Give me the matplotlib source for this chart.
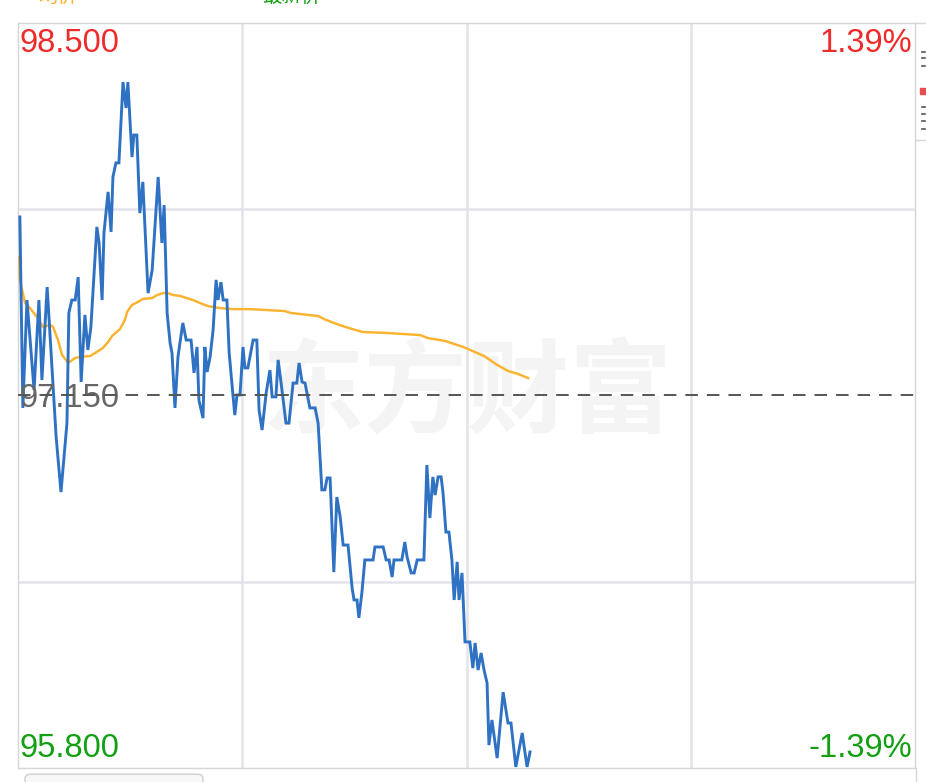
import matplotlib
matplotlib.use('Agg')
import matplotlib.pyplot as plt
from matplotlib.patches import FancyBboxPatch, Rectangle
from matplotlib.lines import Line2D

# Intraday data (minutes since 09:30, midday break removed)
PREV_CLOSE = 97.150
Y_HIGH = 98.500
Y_LOW = 95.800
TOTAL_MINUTES = 240

price_minutes = [
    0.5, 1.3, 2.4, 4.3, 5.6, 6.4, 7.8, 10.2, 11.5, 13.1, 13.6, 14.4, 15.3, 16.1,
    16.9, 17.9, 18.7, 19.5, 21.1, 21.7, 22.5, 23.0, 24.1, 24.9, 25.4, 26.2, 27.0,
    28.1, 28.9, 29.4, 30.5, 31.0, 31.8, 32.6, 33.4, 34.8, 35.9, 37.5, 38.5, 39.1,
    39.9, 40.7, 41.2, 42.0, 42.8, 44.1, 45.0, 46.3, 47.1, 47.9, 48.4, 49.5, 50.0,
    50.6, 51.4, 52.2, 53.0, 53.5, 54.3, 54.9, 55.9, 56.5, 58.0, 58.6, 59.4, 60.2,
    60.7, 61.5, 62.9, 63.9, 64.5, 65.3, 66.4, 67.4, 68.0, 69.0, 69.6, 70.4, 71.7,
    72.5, 73.6, 74.6, 75.2, 76.0, 76.8, 78.1, 79.5, 80.3, 81.3, 82.1, 82.7, 83.5,
    84.5, 85.3, 86.2, 87.0, 88.3, 89.4, 89.9, 90.7, 91.2, 92.0, 92.8, 95.0, 95.5,
    97.7, 98.5, 99.3, 100.1, 100.6, 102.7, 103.5, 104.1, 105.2, 106.0, 106.8,
    108.6, 109.4, 110.2, 111.0, 111.6, 112.4, 113.2, 113.7, 114.5, 115.3, 116.1,
    116.7, 117.5, 118.0, 118.8, 119.6, 120.9, 121.7, 122.3, 123.1, 123.9, 124.7,
    125.5, 126.0, 126.8, 128.2, 129.8, 131.1, 131.9, 133.2, 134.9, 136.2, 137.0,
]
price_values = [
    97.797, 97.105, 97.496, 97.170, 97.496, 97.206, 97.543, 97.000, 96.800, 97.050,
    97.449, 97.496, 97.496, 97.579, 97.199, 97.442, 97.315, 97.398, 97.761, 97.703,
    97.496, 97.739, 97.888, 97.743, 97.942, 97.993, 97.993, 98.286, 98.192, 98.286,
    98.014, 98.094, 98.094, 97.811, 97.924, 97.521, 97.605, 97.942, 97.703, 97.840,
    97.449, 97.340, 97.304, 97.105, 97.290, 97.413, 97.351, 97.351, 97.232, 97.326,
    97.134, 97.068, 97.326, 97.235, 97.290, 97.387, 97.569, 97.496, 97.561, 97.496,
    97.496, 97.304, 97.079, 97.152, 97.152, 97.326, 97.250, 97.250, 97.351, 97.351,
    97.097, 97.025, 97.159, 97.242, 97.145, 97.145, 97.279, 97.195, 97.050, 97.050,
    97.195, 97.195, 97.268, 97.199, 97.195, 97.105, 97.105, 97.050, 96.808, 96.808,
    96.851, 96.851, 96.510, 96.782, 96.710, 96.608, 96.608, 96.452, 96.409, 96.409,
    96.344, 96.434, 96.554, 96.554, 96.601, 96.601, 96.554, 96.554, 96.492, 96.554,
    96.554, 96.619, 96.565, 96.507, 96.507, 96.554, 96.554, 96.898, 96.706, 96.855,
    96.789, 96.855, 96.855, 96.800, 96.655, 96.655, 96.554, 96.409, 96.547, 96.409,
    96.507, 96.257, 96.257, 96.162, 96.253, 96.155, 96.217, 96.155, 96.108, 95.883,
    95.974, 95.836, 96.075, 95.963, 95.963, 95.804, 95.927, 95.804, 95.858,
]

avg_minutes = [
    0.3, 0.5, 1.9, 3.2, 5.1, 6.7, 8.6, 9.4, 10.7, 11.8, 13.4, 15.3, 16.6, 19.3,
    21.1, 22.7, 24.1, 25.2, 27.3, 28.6, 29.2, 30.5, 32.1, 33.4, 35.9, 37.2, 38.8,
    40.1, 41.5, 43.3, 45.2, 46.8, 48.7, 50.8, 54.0, 57.5, 62.1, 71.4, 73.0, 80.3,
    82.4, 85.9, 89.4, 92.3, 98.2, 107.6, 109.7, 114.2, 119.1, 124.7, 128.2, 131.1,
    133.8, 136.5,
]
avg_values = [
    97.652, 97.569, 97.485, 97.467, 97.434, 97.398, 97.406, 97.398, 97.351, 97.297,
    97.268, 97.286, 97.290, 97.293, 97.308, 97.322, 97.344, 97.366, 97.391, 97.424,
    97.453, 97.478, 97.489, 97.500, 97.503, 97.514, 97.521, 97.521, 97.514, 97.511,
    97.503, 97.496, 97.485, 97.474, 97.467, 97.463, 97.463, 97.456, 97.449, 97.438,
    97.424, 97.406, 97.391, 97.380, 97.377, 97.369, 97.358, 97.348, 97.326, 97.293,
    97.261, 97.239, 97.228, 97.213,
]

grid_minutes = [60, 120, 180]
grid_prices = [97.825, 96.475]

RED = '#ee2a2a'
GREEN = '#12a012'
GRAY_TXT = '#666666'
BLUE = '#2f72c4'
ORANGE = '#fbb22f'
GRID = '#e2e3ec'
BORDER = '#d6d6d6'

plt.rcParams['font.family'] = ['Liberation Sans', 'Noto Sans CJK SC', 'DejaVu Sans']
plt.rcParams['lines.scale_dashes'] = False

W, H = 926, 782
fig = plt.figure(figsize=(W / 100, H / 100), dpi=100)
fig.patch.set_facecolor('white')

ax = fig.add_axes([18 / W, 14 / H, 897 / W, 745 / H])
ax.set_xlim(0, TOTAL_MINUTES)
ax.set_ylim(Y_LOW, Y_HIGH)
ax.set_xticks([])
ax.set_yticks([])
for s in ax.spines.values():
    s.set_color(BORDER)
    s.set_linewidth(1.0)

# watermark
ax.text(0.5, 0.5, '东方财富', transform=ax.transAxes, ha='center', va='center',
        fontsize=74, color='#f4f4f4', fontweight='bold',
        family=['Noto Sans CJK SC'], zorder=0)

for m in grid_minutes:
    ax.axvline(m, color=GRID, linewidth=1.8, zorder=1)
for p in grid_prices:
    ax.axhline(p, color=GRID, linewidth=1.8, zorder=1)

ax.axhline(PREV_CLOSE, color='#555555', linewidth=1.4, dashes=(9, 6.5), zorder=4)

ax.plot(avg_minutes, avg_values, color=ORANGE, linewidth=1.75, zorder=3,
        solid_joinstyle='round')
ax.plot(price_minutes, price_values, color=BLUE, linewidth=2.1, zorder=3,
        solid_joinstyle='miter')

fs = 23.5
ax.text(0.002, 0.961, f'{Y_HIGH:.3f}', transform=ax.transAxes, color=RED,
        fontsize=fs, va='baseline', ha='left', zorder=5)
ax.text(0.9967, 0.961, '1.39%', transform=ax.transAxes, color=RED,
        fontsize=fs, va='baseline', ha='right', zorder=5)
ax.text(0.002, 0.4846, f'{PREV_CLOSE:.3f}', transform=ax.transAxes, color=GRAY_TXT,
        fontsize=fs, va='baseline', ha='left', zorder=3)
ax.text(0.002, 0.0148, f'{Y_LOW:.3f}', transform=ax.transAxes, color=GREEN,
        fontsize=fs, va='baseline', ha='left', zorder=5)
ax.text(0.9967, 0.0148, '-1.39%', transform=ax.transAxes, color=GREEN,
        fontsize=fs, va='baseline', ha='right', zorder=5)

# frame pieces outside the plot area
fig.add_artist(Line2D([915 / W, 1], [1 - 23 / H, 1 - 23 / H], color=BORDER, linewidth=1.0))
fig.add_artist(Line2D([915.5 / W, 915.5 / W], [0, 14 / H], color=BORDER, linewidth=1.0))
fig.add_artist(Line2D([916 / W, 1], [1 - 140 / H, 1 - 140 / H], color=BORDER, linewidth=1.0))
fig.add_artist(Rectangle((920 / W, 1 - 94 / H), 6 / W, 6 / H, color='#e84b4b'))
for yy in [52, 58, 66, 107, 114, 121, 129]:
    fig.add_artist(Line2D([922 / W, 925 / W], [1 - yy / H, 1 - yy / H],
                          color='#555555', linewidth=1.2))

# legend labels cut by the top edge
fig.text(38 / W, 1 - 2 / H, '均价', color=ORANGE, fontsize=14, va='baseline',
         family=['Noto Sans CJK SC'])
fig.text(262 / W, 1 - 2 / H, '最新价', color=GREEN, fontsize=14, va='baseline',
         family=['Noto Sans CJK SC'])

# button at the bottom
fig.add_artist(FancyBboxPatch((25 / W, -0.02), 178 / W, 0.03,
                              boxstyle='round,pad=0,rounding_size=0.006',
                              facecolor='#f7f7f7', edgecolor='#cfcfcf', linewidth=1.0))

fig.savefig('out.png', dpi=100)
